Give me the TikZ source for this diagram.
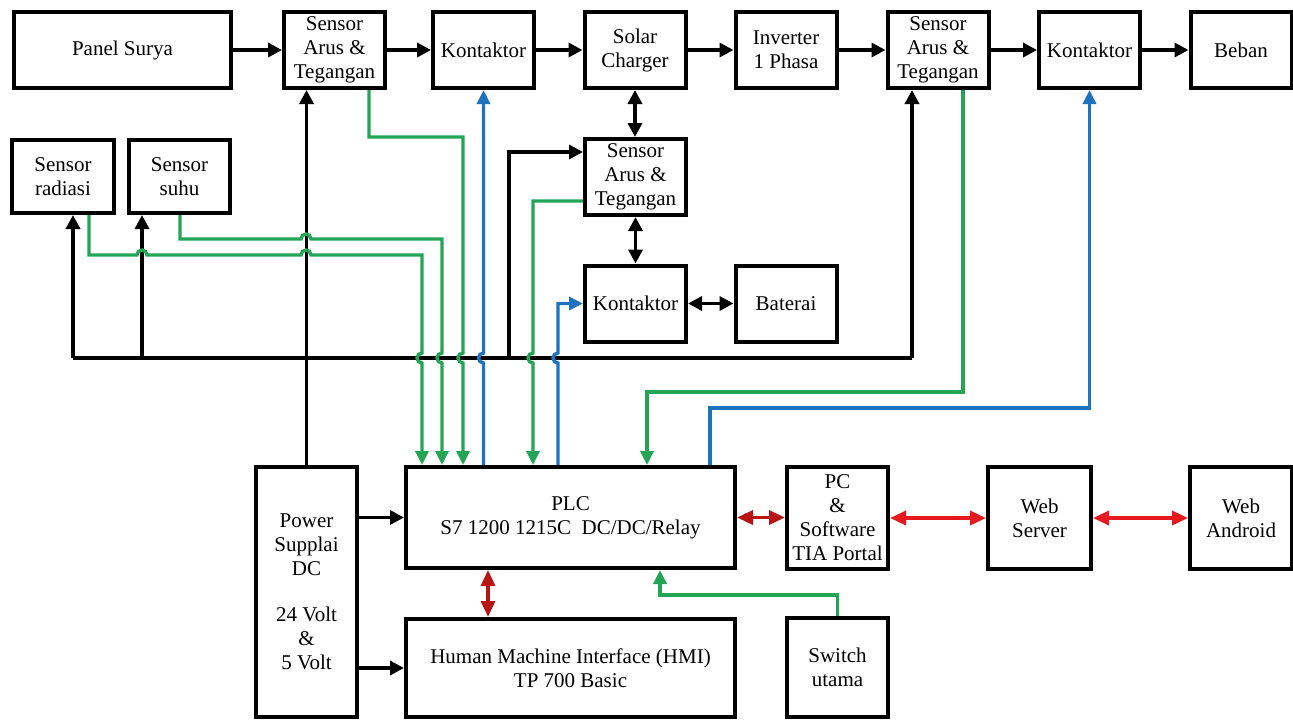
\documentclass[tikz,border=0pt]{standalone}
\usepackage{fontspec}
\setmainfont{Liberation Serif}
\newfontfamily\diagfont{Liberation Serif}
\usetikzlibrary{arrows.meta}
\definecolor{gline}{RGB}{35,165,85}
\definecolor{bline}{RGB}{30,115,190}
\definecolor{drline}{RGB}{185,20,20}
\definecolor{rrline}{RGB}{230,25,30}
\begin{document}
\begin{tikzpicture}[x=0.5pt,y=-0.5pt,
  box/.style={draw, line width=2pt, inner sep=0pt, align=center, font=\diagfont\fontsize{10.5}{12}\selectfont},
  sbox/.style={box, minimum width=50.5pt, minimum height=38pt},
  bk/.style={line width=1.7pt, black, -{Triangle[length=7pt,width=7pt]}},
  bkd/.style={line width=1.7pt, black, {Triangle[length=7pt,width=7pt]}-{Triangle[length=7pt,width=7pt]}},
  bkl/.style={line width=1.7pt, black},
  gr/.style={line width=1.7pt, gline, -{Triangle[length=7pt,width=6.5pt]}},
  bu/.style={line width=1.7pt, bline, -{Triangle[length=7pt,width=6.5pt]}},
  drd/.style={line width=1.7pt, drline, {Triangle[length=8pt,width=7pt]}-{Triangle[length=8pt,width=7pt]}},
  rrd/.style={line width=1.7pt, rrline, {Triangle[length=8pt,width=7pt]}-{Triangle[length=8pt,width=7pt]}}]
\useasboundingbox (0,0) rectangle (1293,719);

% top row
\node[box, minimum width=108.5pt, minimum height=38pt] (pan) at (122.5,50) {Panel Surya};
\node[sbox] (s1) at (334.5,50) {Sensor\\Arus \&\\Tegangan};
\node[sbox] (k1) at (483.5,50) {Kontaktor};
\node[sbox] (sc) at (635,50) {Solar\\Charger};
\node[sbox] (inv) at (786,50) {Inverter\\1 Phasa};
\node[sbox] (s2) at (938,50) {Sensor\\Arus \&\\Tegangan};
\node[sbox] (k2) at (1089.5,50) {Kontaktor};
\node[sbox] (beb) at (1241,50) {Beban};

% middle
\node[box, minimum width=51pt, minimum height=36.5pt] (rad) at (63,176.5) {Sensor\\radiasi};
\node[box, minimum width=50.5pt, minimum height=36.5pt] (suhu) at (179.5,176.5) {Sensor\\suhu};
\node[sbox] (s3) at (635.5,177) {Sensor\\Arus \&\\Tegangan};
\node[sbox] (k3) at (635.5,303.5) {Kontaktor};
\node[sbox] (bat) at (786,303.5) {Baterai};

% bottom
\node[box, minimum width=50.5pt, minimum height=125pt] (ps) at (306.5,592) {Power\\Supplai\\DC\\[11pt]24 Volt\\\&\\5 Volt};
\node[box, minimum width=164.5pt, minimum height=50.5pt] (plc) at (570.5,517.5) {PLC\\S7 1200 1215C\ \ DC/DC/Relay};
\node[box, minimum width=164.5pt, minimum height=49pt] (hmi) at (570.5,668) {Human Machine Interface (HMI)\\TP 700 Basic};
\node[box, minimum width=50.5pt, minimum height=51pt] (pc) at (837.5,518) {PC\\\&\\Software\\TIA Portal};
\node[box, minimum width=51.5pt, minimum height=51pt] (ws) at (1039.5,518) {Web\\Server};
\node[box, minimum width=51pt, minimum height=51pt] (wa) at (1241,518) {Web\\Android};
\node[box, minimum width=50.5pt, minimum height=49.5pt] (sw) at (837.5,667.5) {Switch\\utama};

% top row flow
\draw[bk] (pan.east) -- (s1.west);
\draw[bk] (s1.east) -- (k1.west);
\draw[bk] (k1.east) -- (sc.west);
\draw[bk] (sc.east) -- (inv.west);
\draw[bk] (inv.east) -- (s2.west);
\draw[bk] (s2.east) -- (k2.west);
\draw[bk] (k2.east) -- (beb.west);

% battery branch
\draw[bkd] (sc.south) -- (sc.south |- s3.north);
\draw[bkd] (s3.south) -- (k3.north);
\draw[bkd] (k3.east) -- (bat.west);

% power bus
\coordinate (busL) at (73,358);
\coordinate (busS) at (142,358);
\coordinate (busC) at (509,358);
\coordinate (busR) at (912,358);
\draw[bkl] (busL) -- (busR);
\draw[bk] (busL) -- (busL |- rad.south);
\draw[bk] (busS) -- (busS |- suhu.south);
\draw[bk] (busR) -- (busR |- s2.south);
\draw[bk] (busC) |- ([yshift=12.5pt]s3.west);
\draw[bk] (ps.north) -- (ps.north |- s1.south);
\draw[bk] (ps.east |- plc.west) -- (plc.west);
\draw[bk] (ps.east |- hmi.west) -- (hmi.west);

% sensor signals (green) and contactor commands (blue)
\draw[gr] (89,0 |- rad.south) -- (89,255) -- (137,255) arc[start angle=180,end angle=0,radius=2.5pt]
  -- (301,255) arc[start angle=180,end angle=0,radius=2.5pt] -- (422,255) -- (422,353)
  arc[start angle=90,end angle=270,radius=2.5pt] -- (422,0 |- plc.north);
\draw[gr] (180,0 |- suhu.south) -- (180,239) -- (301,239) arc[start angle=180,end angle=0,radius=2.5pt]
  -- (442,239) -- (442,353) arc[start angle=90,end angle=270,radius=2.5pt] -- (442,0 |- plc.north);
\draw[gr] (369,0 |- s1.south) -- (369,137) -- (463,137) -- (463,353)
  arc[start angle=90,end angle=270,radius=2.5pt] -- (463,0 |- plc.north);
\draw[bu] (483.5,0 |- plc.north) -- (483.5,363) arc[start angle=270,end angle=90,radius=2.5pt] -- (k1.south);
\draw[gr] ([yshift=-12pt]s3.west) -- (533,201) -- (533,353)
  arc[start angle=90,end angle=270,radius=2.5pt] -- (533,0 |- plc.north);
\draw[bu] (558,0 |- plc.north) -- (558,363) arc[start angle=270,end angle=90,radius=2.5pt]
  -- (558,303.5) -- (k3.west);
\draw[gr] (963,0 |- s2.south) -- (963,392) -- (647,392) -- (647,0 |- plc.north);
\draw[bu] (710,0 |- plc.north) -- (710,408) -- (1089.5,408) -- (k2.south);
\draw[gr] (sw.north) -- (837.5,595) -- (660,595) -- (660,0 |- plc.south);

% communication (red)
\draw[drd] (plc.east) -- (plc.east -| pc.west);
\draw[drd] (488,0 |- plc.south) -- (488,0 |- hmi.north);
\draw[rrd] (pc.east) -- (ws.west);
\draw[rrd] (ws.east) -- (wa.west);
\end{tikzpicture}
\end{document}
